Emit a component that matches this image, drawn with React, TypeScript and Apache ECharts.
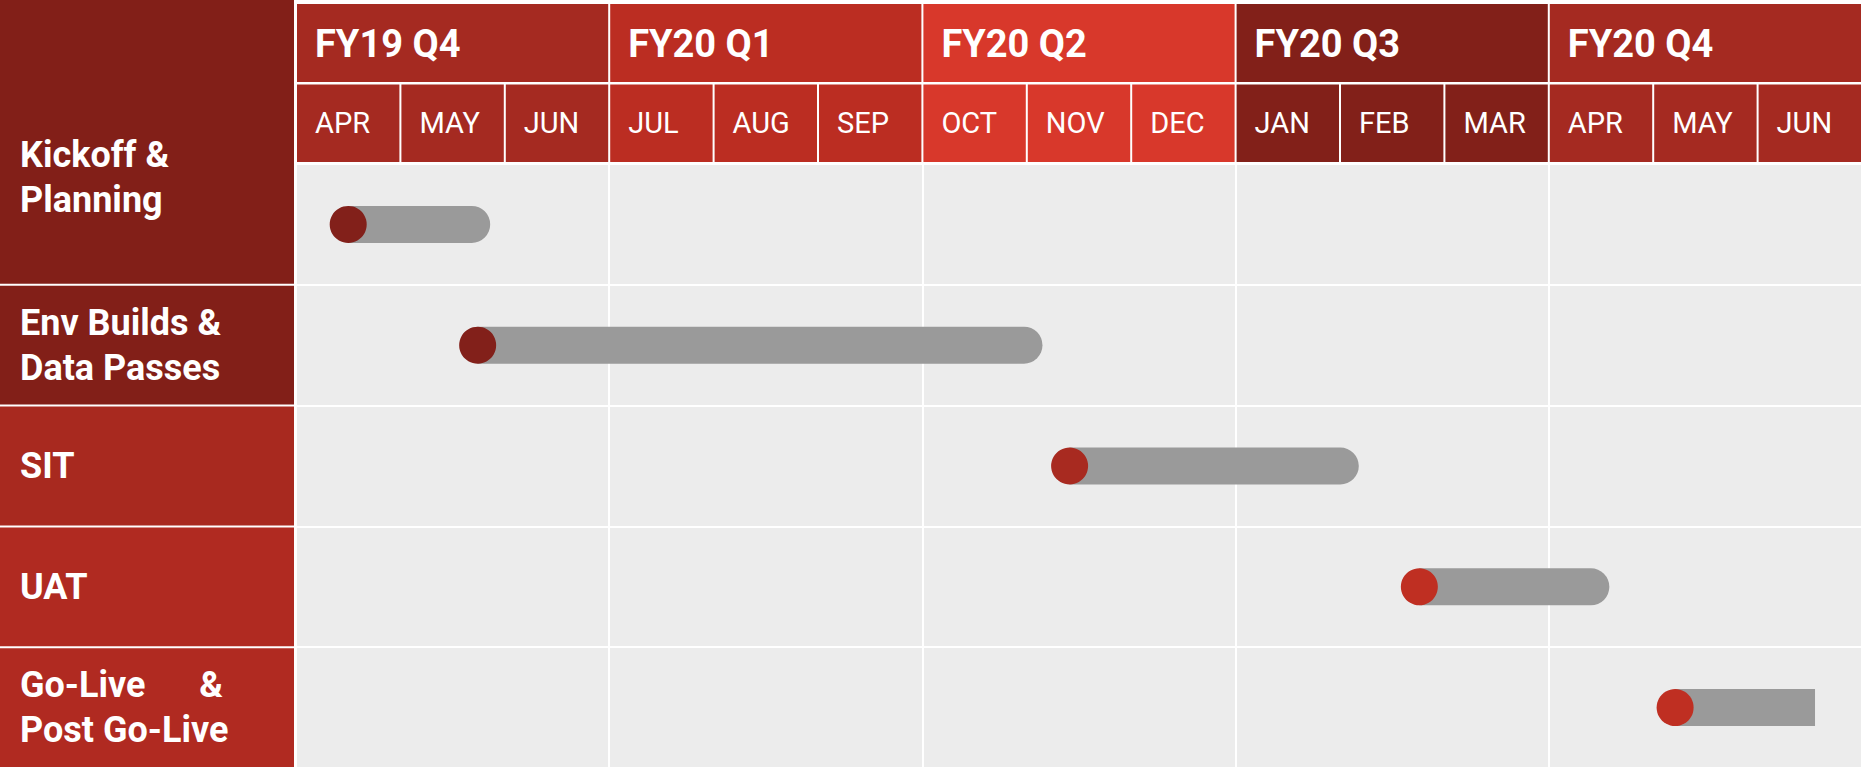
import React, { useEffect, useRef } from "react";
import * as echarts from "echarts";

const quarters = ["FY19 Q4", "FY20 Q1", "FY20 Q2", "FY20 Q3", "FY20 Q4"];
const quarterColors = ["#a52a21", "#bb2d22", "#d8382b", "#822019", "#a52a21"];
const months = ["APR", "MAY", "JUN", "JUL", "AUG", "SEP", "OCT", "NOV", "DEC", "JAN", "FEB", "MAR", "APR", "MAY", "JUN"];
const phases = ["Kickoff &\nPlanning", "Env Builds &\nData Passes", "SIT", "UAT", "Go-Live      &\nPost Go-Live"];
const phaseColors = ["#821f18", "#821f18", "#a8291f", "#b02a21", "#b02a21"];
const phaseStart = [0.5, 1.74, 7.41, 10.76, 13.21];
const phaseEnd = [1.86, 7.15, 10.18, 12.58, 14.55];
const markerColors = ["#82201a", "#82201a", "#a82a20", "#bf2f22", "#bf2f22"];
const roundedEnd = [true, true, true, true, false];

const FONT = "Roboto";

export default function App() {
  const ref = useRef<HTMLDivElement>(null);
  useEffect(() => {
    if (!ref.current) return;
    const chart = echarts.init(ref.current, undefined, { renderer: "svg" });
    const option: any = {
      animation: false,
      backgroundColor: "#ffffff",
      grid: [
        { left: 296, right: 0, top: 164, bottom: 0, show: true, backgroundColor: "#ececec", borderWidth: 0 },
        { left: 296, right: 0, top: 4, height: 159, show: false },
      ],
      xAxis: [
        {
          gridIndex: 0, type: "value", min: 0, max: 15, interval: 3,
          axisLabel: { show: false }, axisLine: { show: false }, axisTick: { show: false },
          splitLine: { show: true, lineStyle: { color: "#ffffff", width: 2 } },
        },
        {
          gridIndex: 1, type: "value", min: 0, max: 15, interval: 3,
          axisLabel: { show: false }, axisLine: { show: false }, axisTick: { show: false },
          splitLine: { show: false },
        },
      ],
      yAxis: [
        {
          gridIndex: 0, type: "category", data: phases, inverse: true,
          axisLabel: { show: false }, axisLine: { show: false }, axisTick: { show: false },
          splitLine: { show: true, lineStyle: { color: "#ffffff", width: 2 } },
        },
        {
          gridIndex: 1, type: "value", min: 0, max: 2, inverse: true,
          axisLabel: { show: false }, axisLine: { show: false }, axisTick: { show: false },
          splitLine: { show: false },
        },
      ],
      series: [
        {
          name: "quarters",
          type: "custom",
          xAxisIndex: 1, yAxisIndex: 1,
          clip: false,
          data: quarters.map((q, i) => [i * 3, 0]),
          encode: { x: 0, y: 1 },
          renderItem: (params: any, api: any) => {
            const i = params.dataIndex;
            const x0 = api.value(0);
            const p0 = api.coord([x0, 0]);
            const p1 = api.coord([x0 + 3, 1]);
            return {
              type: "group",
              children: [
                { type: "rect", shape: { x: p0[0] + 1, y: p0[1], width: p1[0] - p0[0] - 2, height: p1[1] - p0[1] - 1.5 }, style: { fill: quarterColors[i] } },
                {
                  type: "text",
                  style: {
                    x: p0[0] + 19, y: (p0[1] + p1[1]) / 2, text: quarters[i],
                    fill: "#ffffff", font: `bold 38px ${FONT}`, verticalAlign: "middle", align: "left",
                  },
                },
              ],
            };
          },
        },
        {
          name: "months",
          type: "custom",
          xAxisIndex: 1, yAxisIndex: 1,
          clip: false,
          data: months.map((m, i) => [i, 1]),
          encode: { x: 0, y: 1 },
          renderItem: (params: any, api: any) => {
            const i = params.dataIndex;
            const x0 = api.value(0);
            const p0 = api.coord([x0, 1]);
            const p1 = api.coord([x0 + 1, 2]);
            return {
              type: "group",
              children: [
                { type: "rect", shape: { x: p0[0] + 1, y: p0[1] + 1, width: p1[0] - p0[0] - 2, height: p1[1] - p0[1] - 2 }, style: { fill: quarterColors[Math.floor(i / 3)] } },
                {
                  type: "text",
                  style: {
                    x: p0[0] + 19, y: (p0[1] + p1[1]) / 2, text: months[i],
                    fill: "#ffffff", font: `normal 29px ${FONT}`, verticalAlign: "middle", align: "left",
                  },
                },
              ],
            };
          },
        },
        {
          name: "phaseLabels",
          type: "custom",
          xAxisIndex: 0, yAxisIndex: 0,
          clip: false,
          data: phases.map((p, i) => [0, i]),
          encode: { x: 0, y: 1 },
          renderItem: (params: any, api: any) => {
            const i = params.dataIndex;
            const c = api.coord([0, i]);
            const band = api.size([0, 1])[1];
            const top = i === 0 ? 0 : c[1] - band / 2 + 1;
            const bottom = c[1] + band / 2 - 1;
            const textY = i === 0 ? c[1] - 47 : c[1];
            return {
              type: "group",
              children: [
                { type: "rect", shape: { x: 0, y: top, width: c[0] - 2, height: bottom - top }, style: { fill: phaseColors[i] } },
                {
                  type: "text",
                  style: {
                    x: 20, y: textY, text: phases[i],
                    fill: "#ffffff", font: `bold 36px ${FONT}`, lineHeight: 45,
                    verticalAlign: "middle", align: "left",
                  },
                },
              ],
            };
          },
        },
        {
          name: "bars",
          type: "custom",
          xAxisIndex: 0, yAxisIndex: 0,
          clip: false,
          data: phases.map((p, i) => [i, phaseStart[i], phaseEnd[i]]),
          encode: { x: [1, 2], y: 0 },
          renderItem: (params: any, api: any) => {
            const i = params.dataIndex;
            const row = api.value(0);
            const s = api.coord([api.value(1), row]);
            const e = api.coord([api.value(2), row]);
            const h = 37;
            const r = h / 2;
            return {
              type: "group",
              children: [
                {
                  type: "rect",
                  shape: { x: s[0], y: s[1] - r, width: e[0] - s[0], height: h, r: roundedEnd[i] ? [0, r, r, 0] : 0 },
                  style: { fill: "#9a9a9a" },
                },
                { type: "circle", shape: { cx: s[0], cy: s[1], r: r }, style: { fill: markerColors[i] } },
              ],
            };
          },
        },
      ],
    };
    chart.setOption(option);
    return () => chart.dispose();
  }, []);
  return <div ref={ref} style={{ position: "absolute", left: 0, top: 0, width: 1862, height: 768 }} />;
}
